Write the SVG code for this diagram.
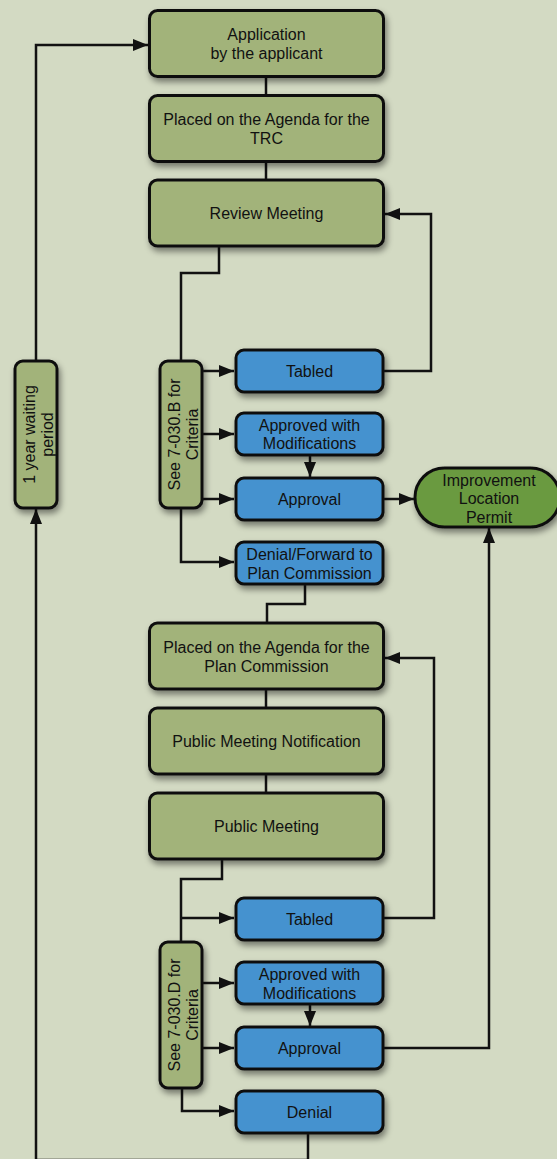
<svg xmlns="http://www.w3.org/2000/svg" width="557" height="1159" viewBox="0 0 557 1159">
<defs>
<style>
.g{fill:#a2b37a;stroke:#111;stroke-width:3;filter:url(#sh)}
.b{fill:#4592cf;stroke:#111;stroke-width:3;filter:url(#sh)}
.p{fill:#6b9a3f;stroke:#111;stroke-width:3;filter:url(#sh)}
.c{fill:none;stroke:#111;stroke-width:2.5}
.a{marker-end:url(#ar)}
text{font-family:"Liberation Sans",Arial,sans-serif;font-size:16px;fill:#111;text-anchor:middle}
</style>
<filter id="sh" x="-20%" y="-20%" width="150%" height="160%">
<feDropShadow dx="2" dy="4" stdDeviation="3" flood-color="#000" flood-opacity="0.45"/>
</filter>
<marker id="ar" markerUnits="userSpaceOnUse" markerWidth="16" markerHeight="12" refX="15" refY="6" orient="auto">
<path d="M0,0 L15,6 L0,12 z" fill="#111"/>
</marker>
</defs>
<rect width="557" height="1159" fill="#d3dac3"/>
<g id="connectors">
<path class="c" d="M266,77 V95"/>
<path class="c" d="M266,162 V180"/>
<path class="c" d="M219,246 V273 H181 V361"/>
<path class="c a" d="M202,371 H234"/>
<path class="c a" d="M202,434 H234"/>
<path class="c a" d="M202,499 H234"/>
<path class="c a" d="M181,508 V562 H234"/>
<path class="c a" d="M310,455 V477"/>
<path class="c a" d="M383,371 H431 V214 H385"/>
<path class="c a" d="M383,499 H414"/>
<path class="c" d="M305,584 V604 H267 V623"/>
<path class="c" d="M266,689 V708"/>
<path class="c" d="M266,774 V793"/>
<path class="c" d="M222,859 V879 H181 V942"/>
<path class="c a" d="M181,918 H234"/>
<path class="c a" d="M202,983 H234"/>
<path class="c a" d="M202,1048 H234"/>
<path class="c a" d="M182,1088 V1111 H234"/>
<path class="c a" d="M310,1004 V1026"/>
<path class="c a" d="M383,918 H434 V658 H385"/>
<path class="c a" d="M383,1048 H489 V528"/>
<path class="c a" d="M308,1133 V1160 H36 V509"/>
<path class="c a" d="M36,361 V45 H148"/>
</g>
<g id="app"><rect class="g" x="149.5" y="10.5" width="234" height="66" rx="8"/><text x="266.5" y="40">Application</text><text x="266.5" y="59">by the applicant</text></g>
<g id="trc"><rect class="g" x="149.5" y="95.5" width="234" height="66" rx="8"/><text x="266.5" y="125">Placed on the Agenda for the</text><text x="266.5" y="144">TRC</text></g>
<g id="review"><rect class="g" x="149.5" y="180" width="234" height="66" rx="8"/><text x="266.5" y="219">Review Meeting</text></g>
<g id="tabled1"><rect class="b" x="236" y="350" width="147" height="42" rx="8"/><text x="309.5" y="377">Tabled</text></g>
<g id="awm1"><rect class="b" x="236" y="413" width="147" height="42" rx="8"/><text x="309.5" y="431">Approved with</text><text x="309.5" y="449">Modifications</text></g>
<g id="approval1"><rect class="b" x="236" y="478" width="147" height="42" rx="8"/><text x="309.5" y="505">Approval</text></g>
<g id="denialfwd"><rect class="b" x="236" y="542" width="147" height="42" rx="8"/><text x="309.5" y="560">Denial/Forward to</text><text x="309.5" y="579">Plan Commission</text></g>
<g id="sideB"><rect class="g" x="160" y="361" width="42" height="147" rx="8"/><g transform="translate(181,434.5) rotate(-90)"><text x="0" y="-1">See 7-030.B for</text><text x="0" y="17">Criteria</text></g></g>
<g id="wait"><rect class="g" x="15" y="361" width="42" height="147" rx="8"/><g transform="translate(36,434.5) rotate(-90)"><text x="0" y="-1">1 year waiting</text><text x="0" y="17">period</text></g></g>
<g id="permit"><rect class="p" x="415" y="468" width="145" height="59" rx="29.5"/><text x="489" y="486">Improvement</text><text x="489" y="504">Location</text><text x="489" y="523">Permit</text></g>
<g id="pcagenda"><rect class="g" x="149.5" y="623" width="234" height="66" rx="8"/><text x="266.5" y="653">Placed on the Agenda for the</text><text x="266.5" y="672">Plan Commission</text></g>
<g id="notif"><rect class="g" x="149.5" y="708" width="234" height="66" rx="8"/><text x="266.5" y="747">Public Meeting Notification</text></g>
<g id="pubmeet"><rect class="g" x="149.5" y="793" width="234" height="66" rx="8"/><text x="266.5" y="832">Public Meeting</text></g>
<g id="tabled2"><rect class="b" x="236" y="898" width="147" height="42" rx="8"/><text x="309.5" y="925">Tabled</text></g>
<g id="awm2"><rect class="b" x="236" y="962" width="147" height="42" rx="8"/><text x="309.5" y="980">Approved with</text><text x="309.5" y="999">Modifications</text></g>
<g id="approval2"><rect class="b" x="236" y="1027" width="147" height="42" rx="8"/><text x="309.5" y="1054">Approval</text></g>
<g id="denial2"><rect class="b" x="236" y="1091" width="147" height="42" rx="8"/><text x="309.5" y="1118">Denial</text></g>
<g id="sideD"><rect class="g" x="160" y="942" width="42" height="146" rx="8"/><g transform="translate(181,1015) rotate(-90)"><text x="0" y="-1">See 7-030.D for</text><text x="0" y="17">Criteria</text></g></g>
</svg>
